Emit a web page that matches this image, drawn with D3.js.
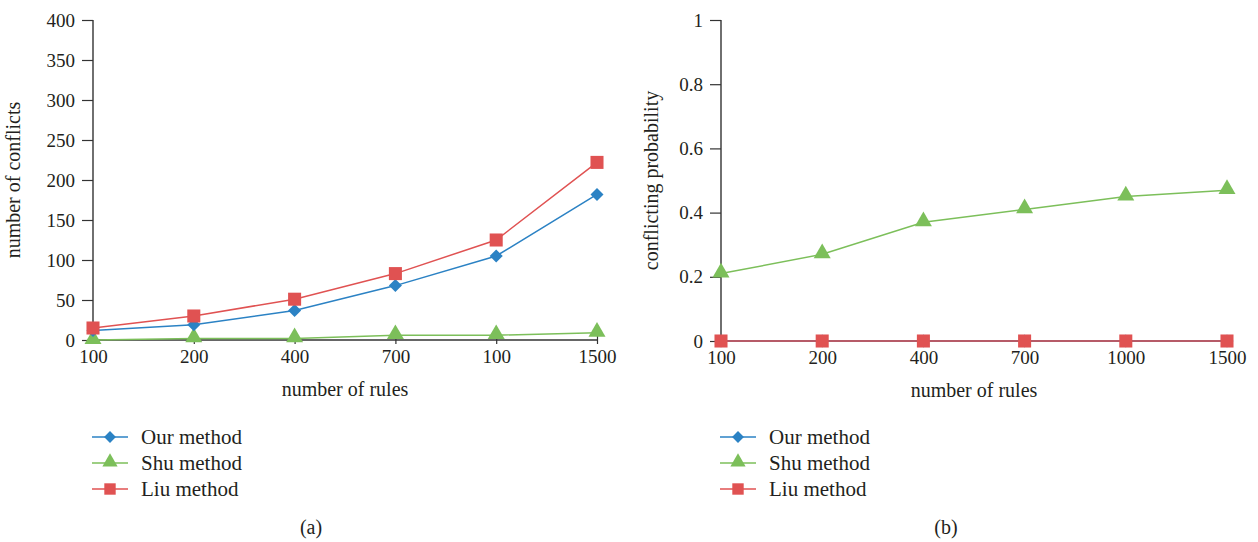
<!DOCTYPE html>
<html><head><meta charset="utf-8">
<script src="https://cdn.jsdelivr.net/npm/d3@7"></script>
<style>body{margin:0;background:#fff}svg{display:block}text{font-family:"Liberation Serif","DejaVu Serif",serif;fill:#231f20}</style>
</head><body>
<svg id="c" width="1258" height="542"></svg>
<script>
const catsA = ["100","200","400","700","100","1500"];
const catsB = ["100","200","400","700","1000","1500"];
const ourA = [12,19,37,68,105,182];
const shuA = [0,2,2,6,6,9];
const liuA = [15,30,51,83,125,222];
const ourB = [0,0,0,0,0,0];
const shuB = [0.21,0.27,0.37,0.41,0.45,0.47];
const liuB = [0,0,0,0,0,0];
const ticksA = [0,50,100,150,200,250,300,350,400];
const ticksB = [0,0.2,0.4,0.6,0.8,1];
const seriesNames = ["Our method","Shu method","Liu method"];
const colors = ["#2b82c4","#7cbf5a","#e05252"];
const symbols = [d3.symbolSquare, d3.symbolTriangle, d3.symbolSquare];
const rot = [45,0,0];

const svg = d3.select("#c");
const FF = "Liberation Serif, DejaVu Serif, serif";

function panel(opt){
  const g = svg.append("g");
  const x = d3.scalePoint().domain(d3.range(opt.cats.length)).range([opt.x0,opt.x1]);
  const y = d3.scaleLinear().domain(opt.ydom).range([opt.y0,opt.y1]);
  // y axis
  const ya = g.append("g").attr("transform",`translate(${opt.x0},0)`)
    .call(d3.axisLeft(y).tickValues(opt.yticks).tickSize(11).tickPadding(7).tickFormat(opt.fmt))
    .attr("font-family",FF).attr("font-size",19);
  ya.select(".domain").attr("stroke","#333").attr("stroke-width",1.4).attr("d",`M0,${opt.y0}V${opt.y1}`);
  ya.selectAll(".tick line").attr("stroke","#333").attr("stroke-width",1.2);
  ya.selectAll(".tick text").attr("fill","#231f20");
  // x axis
  const xa = g.append("g").attr("transform",`translate(0,${opt.y0})`)
    .call(d3.axisBottom(x).tickSize(0).tickPadding(10).tickFormat(i=>opt.cats[i]))
    .attr("font-family",FF).attr("font-size",19);
  xa.select(".domain").attr("stroke","#333").attr("stroke-width",1.4).attr("d",`M${opt.x0},0H${opt.x1}`);
  xa.selectAll(".tick line").attr("stroke","#333").attr("stroke-width",1.2).attr("y1",-6).attr("y2",4);
  xa.selectAll(".tick text").attr("fill","#231f20");
  // titles
  g.append("text").attr("x",(opt.x0+opt.x1)/2).attr("y",opt.y0+56).attr("text-anchor","middle").attr("font-size",20).text("number of rules");
  g.append("text").attr("transform",`translate(${opt.ylx},${(opt.y0+opt.y1)/2}) rotate(-90)`).attr("text-anchor","middle").attr("font-size",20).text(opt.ylabel);
  // series
  const line = d3.line().x((d,i)=>x(i)).y(d=>y(d));
  const order = opt.order;
  order.forEach(k=>{
    g.append("path").datum(opt.data[k]).attr("fill","none").attr("stroke",colors[k]).attr("stroke-width",1.5).attr("d",line);
  });
  order.forEach(k=>{
    const sz = k===0?85:(k===1?125:170);
    g.selectAll(null).data(opt.data[k]).join("path")
      .attr("transform",(d,i)=>`translate(${x(i)},${y(d)+(k===1?-1:0)}) rotate(${rot[k]})`)
      .attr("d",d3.symbol().type(symbols[k]).size(sz)).attr("fill",colors[k]);
  });
  // legend
  seriesNames.forEach((n,k)=>{
    const ly = opt.ly + k*26;
    g.append("line").attr("x1",opt.lx).attr("x2",opt.lx+36).attr("y1",ly).attr("y2",ly).attr("stroke",colors[k]).attr("stroke-width",1.5);
    g.append("path").attr("transform",`translate(${opt.lx+18},${ly-(k===1?1:0)}) rotate(${rot[k]})`).attr("d",d3.symbol().type(symbols[k]).size(k===2?130:(k===0?70:100))).attr("fill",colors[k]);
    g.append("text").attr("x",opt.lx+49).attr("y",ly+7).attr("font-size",21).text(n);
  });
  g.append("text").attr("x",opt.capx).attr("y",534).attr("text-anchor","middle").attr("font-size",20).text(opt.cap);
}

panel({cats:catsA, x0:93, x1:597, y0:340, y1:20, ydom:[0,400], yticks:ticksA, fmt:d3.format("d"),
  ylabel:"number of conflicts", ylx:20, data:[ourA,shuA,liuA], order:[1,0,2], lx:92, ly:437, capx:311, cap:"(a)"});
panel({cats:catsB, x0:721, x1:1227, y0:341, y1:20, ydom:[0,1], yticks:ticksB, fmt:d=>d===0?"0":d===1?"1":d3.format(".1f")(d),
  ylabel:"conflicting probability", ylx:658, data:[ourB,shuB,liuB], order:[0,1,2], lx:720, ly:437, capx:946, cap:"(b)"});
</script>
</body></html>
